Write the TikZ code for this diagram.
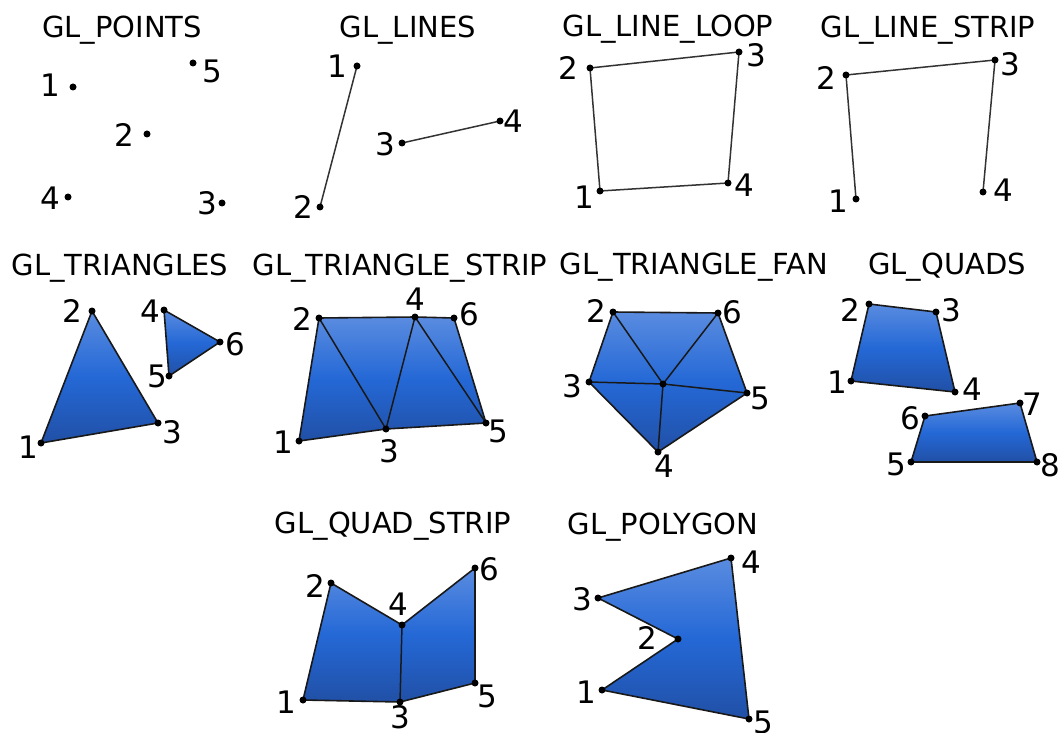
\documentclass[tikz,border=0pt]{standalone}
\usepackage{fontspec}
\setmainfont{DejaVu Sans}
\definecolor{gtop}{RGB}{90,140,224}
\definecolor{gmid}{RGB}{36,104,214}
\definecolor{gbot}{RGB}{33,80,166}
\tikzset{
  dot/.style={circle,fill=black,inner sep=0pt,minimum size=7pt},
  lab/.style={font=\fontsize{31}{31}\selectfont,inner sep=0pt,anchor=base,yshift=-11.3pt},
  ttl/.style={font=\fontsize{29}{29}\selectfont,inner sep=0pt,anchor=base,yshift=-10.6pt},
  edge/.style={draw=black!80,line width=1.5pt,line join=round},
  face/.style={top color=gtop,bottom color=gbot,middle color=gmid,draw=black!90,line width=1.6pt,line join=round},
}
\newcommand\vx[4]{\coordinate (#1) at (#2); \node[lab] (#1-l) at (#3) {#4};}
\begin{document}
\begin{tikzpicture}[x=1pt,y=-1pt]
\useasboundingbox (0,0) rectangle (1061,733);
% titles
\node[ttl] (t1) at (122,27) {GL\_POINTS};
\node[ttl] (t2) at (408,27) {GL\_LINES};
\node[ttl] (t3) at (668,26) {GL\_LINE\_LOOP};
\node[ttl] (t4) at (928,27) {GL\_LINE\_STRIP};
\node[ttl] (t5) at (120,265) {GL\_TRIANGLES};
\node[ttl] (t6) at (400,265) {GL\_TRIANGLE\_STRIP};
\node[ttl] (t7) at (694,264) {GL\_TRIANGLE\_FAN};
\node[ttl] (t8) at (947,264) {GL\_QUADS};
\node[ttl] (t9) at (393,523) {GL\_QUAD\_STRIP};
\node[ttl] (t10) at (663,524) {GL\_POLYGON};
% GL_POINTS
\vx{a1}{73,87}{50,85}{1}
\vx{a2}{147,134}{124,135}{2}
\vx{a3}{222,203}{207,203}{3}
\vx{a4}{68,197}{50,198}{4}
\vx{a5}{193,63}{212,71}{5}
% GL_LINES
\vx{b1}{357,66}{337,66}{1}
\vx{b2}{320,207}{303,207}{2}
\vx{b3}{402,143}{385,144}{3}
\vx{b4}{500,121}{513,121}{4}
% GL_LINE_LOOP
\vx{c1}{600,191}{584,197}{1}
\vx{c2}{590,68}{568,68}{2}
\vx{c3}{739,52}{756,55}{3}
\vx{c4}{728,183}{744,185}{4}
% GL_LINE_STRIP
\vx{d1}{856,199}{838,201}{1}
\vx{d2}{846,75}{826,78}{2}
\vx{d3}{995,60}{1010,64}{3}
\vx{d4}{983,192}{1003,190}{4}
% GL_TRIANGLES
\vx{e1}{41,443}{28,447}{1}
\vx{e2}{92,311}{72,311}{2}
\vx{e3}{158,423}{172,432}{3}
\vx{e4}{164,310}{150,311}{4}
\vx{e5}{169,376}{157,376}{5}
\vx{e6}{220,342}{235,344}{6}
% GL_TRIANGLE_STRIP
\vx{f1}{299,441}{283,442}{1}
\vx{f2}{319,318}{302,319}{2}
\vx{f3}{386,429}{389,451}{3}
\vx{f4}{415,317}{415,299}{4}
\vx{f5}{486,423}{498,431}{5}
\vx{f6}{454,318}{469,314}{6}
% GL_TRIANGLE_FAN
\vx{g1}{663,384}{664,364}{1}
\vx{g2}{613,312}{596,311}{2}
\vx{g3}{589,382}{572,386}{3}
\vx{g4}{658,452}{664,466}{4}
\vx{g5}{747,393}{760,398}{5}
\vx{g6}{718,313}{732,312}{6}
% GL_QUADS
\vx{h1}{851,381}{837,382}{1}
\vx{h2}{869,304}{850,310}{2}
\vx{h3}{936,312}{951,310}{3}
\vx{h4}{955,392}{972,389}{4}
\vx{h5}{911,462}{896,464}{5}
\vx{h6}{925,416}{910,418}{6}
\vx{h7}{1020,403}{1032,404}{7}
\vx{h8}{1037,462}{1050,465}{8}
% GL_QUAD_STRIP
\vx{i1}{303,700}{286,702}{1}
\vx{i2}{331,583}{315,586}{2}
\vx{i3}{400,702}{400,717}{3}
\vx{i4}{402,625}{398,604}{4}
\vx{i5}{475,683}{487,696}{5}
\vx{i6}{475,568}{489,569}{6}
% GL_POLYGON
\vx{j1}{602,690}{586,692}{1}
\vx{j2}{678,639}{647,638}{2}
\vx{j3}{598,598}{582,599}{3}
\vx{j4}{731,558}{751,562}{4}
\vx{j5}{749,719}{763,722}{5}
% line primitives
\draw[edge] (b1) -- (b2);
\draw[edge] (b3) -- (b4);
\draw[edge] (c1) -- (c2) -- (c3) -- (c4) -- cycle;
\draw[edge] (d1) -- (d2) -- (d3) -- (d4);
% filled primitives
\shade[face] (e1) -- (e2) -- (e3) -- cycle;
\shade[face] (e4) -- (e6) -- (e5) -- cycle;
\shade[face] (f1) -- (f2) -- (f4) -- (f6) -- (f5) -- (f3) -- cycle;
\draw[edge,draw=black!90] (f2) -- (f3) -- (f4) -- (f5);
\shade[face] (g2) -- (g6) -- (g5) -- (g4) -- (g3) -- cycle;
\draw[edge,draw=black!90] (g1) -- (g2) (g1) -- (g3) (g1) -- (g4) (g1) -- (g5) (g1) -- (g6);
\shade[face] (h1) -- (h2) -- (h3) -- (h4) -- cycle;
\shade[face] (h5) -- (h6) -- (h7) -- (h8) -- cycle;
\shade[face] (i1) -- (i2) -- (i4) -- (i6) -- (i5) -- (i3) -- cycle;
\draw[edge,draw=black!90] (i3) -- (i4);
\shade[face] (j1) -- (j2) -- (j3) -- (j4) -- (j5) -- cycle;
% dots
\foreach \p in {a1,a2,a3,a4,a5,b1,b2,b3,b4,c1,c2,c3,c4,d1,d2,d3,d4,
  e1,e2,e3,e4,e5,e6,f1,f2,f3,f4,f5,f6,g1,g2,g3,g4,g5,g6,
  h1,h2,h3,h4,h5,h6,h7,h8,i1,i2,i3,i4,i5,i6,j1,j2,j3,j4,j5}
  \node[dot] (\p-dot) at (\p) {};
\end{tikzpicture}
\end{document}
